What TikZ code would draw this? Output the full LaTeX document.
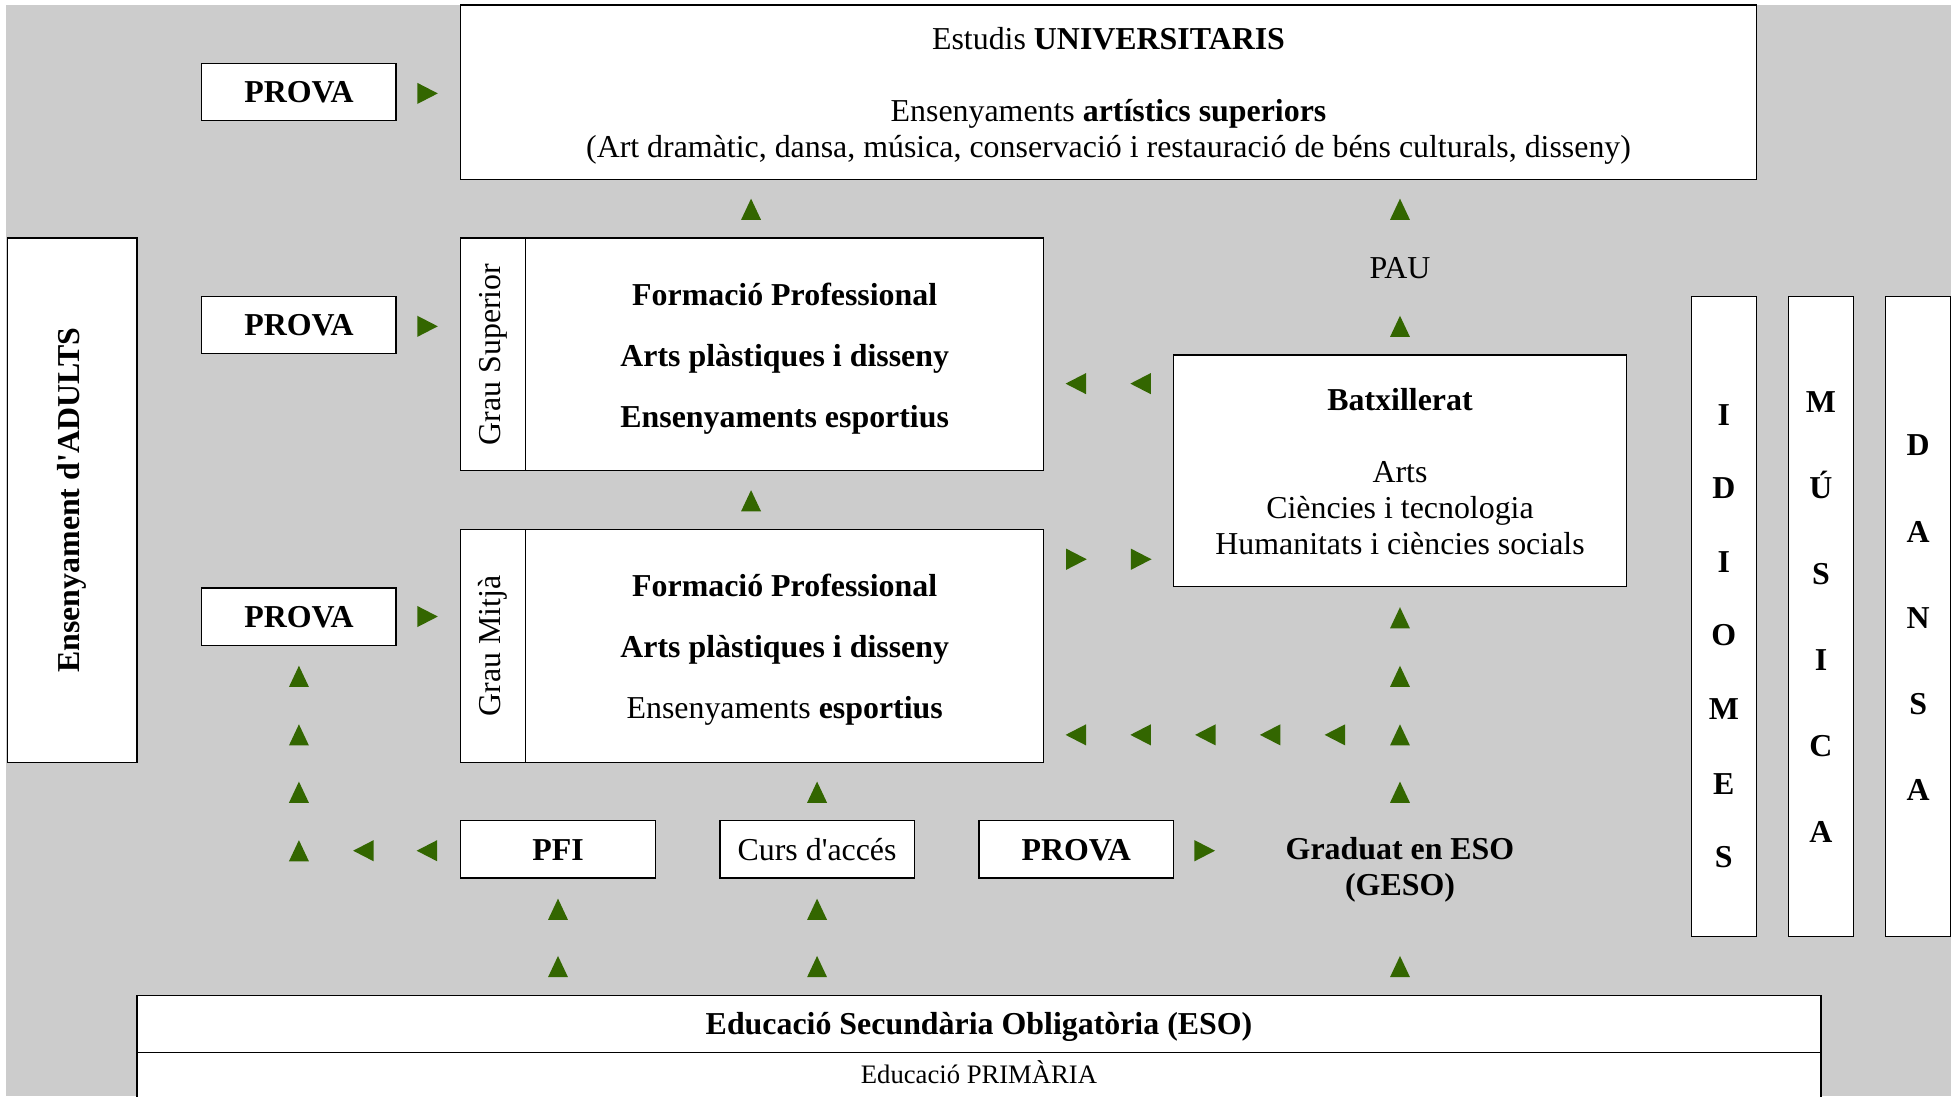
\documentclass[tikz,border=0pt]{standalone}
\usepackage{fontspec}
\setmainfont{Liberation Serif}
\definecolor{bggray}{RGB}{204,204,204}
\definecolor{agreen}{RGB}{51,102,0}
\begin{document}
\begin{tikzpicture}[x=1pt,y=-1pt,
  every node/.style={font=\fontsize{25.6}{29}\selectfont, inner sep=0pt},
  box/.style={draw=black, line width=1pt, fill=white, align=center},
  one/.style={text height=17pt, text depth=0pt},
  bft/.style={font=\fontsize{25.6}{29}\selectfont\bfseries},
  letter/.style={font=\fontsize{25.6}{29}\selectfont\bfseries, anchor=base},
  upar/.pic={\fill[agreen] (-8,8.5)--(8,8.5)--(0,-8.5)--cycle;},
  rtar/.pic={\fill[agreen] (-8,-8.5)--(-8,8.5)--(8.5,0)--cycle;},
  ltar/.pic={\fill[agreen] (8,-8.5)--(8,8.5)--(-8.5,0)--cycle;},
]
\useasboundingbox (0,0) rectangle (1568,880);
\clip (0,0) rectangle (1568,880);
\fill[bggray] (5,4) rectangle (1566,880);

% top: university
\node[box, minimum width=1040pt, minimum height=140pt] (univ) at (890,74) {};
\node[align=center] (univt) at (890,77)
  {Estudis \textbf{UNIVERSITARIS}\\[29pt] Ensenyaments \textbf{artístics superiors}\\
   (Art dramàtic, dansa, música, conservació i restauració de béns culturals, disseny)};

% adults
\node[box, bft, rotate=90, minimum width=421pt, minimum height=104pt] (adults) at (58,401.5) {Ensenyament d\textquotesingle ADULTS};

% PROVA boxes
\node[box, one, bft, minimum width=156pt, minimum height=46pt] (prova1) at (240,74) {PROVA};
\node[box, one, bft, minimum width=156pt, minimum height=46pt] (prova2) at (240,261) {PROVA};
\node[box, one, bft, minimum width=156pt, minimum height=46pt] (prova3) at (240,495) {PROVA};
\node[box, one, bft, minimum width=156pt, minimum height=46pt] (prova4) at (864,682) {PROVA};
\node[box, one, bft, minimum width=156pt, minimum height=46pt] (pfi) at (448,682) {PFI};
\node[box, one, minimum width=156pt, minimum height=46pt] (curs) at (656,682) {Curs d\textquotesingle accés};

% Grau Superior
\node[box, rotate=90, minimum width=187pt, minimum height=52pt] (gsl) at (396,284.5) {Grau Superior};
\node[box, minimum width=416pt, minimum height=187pt] (gsr) at (630,284.5) {};
\node[bft, align=center] (gsrt) at (630,288)
  {Formació Professional\\[20pt] Arts plàstiques i disseny\\[20pt] Ensenyaments esportius};

% Grau Mitja
\node[box, rotate=90, minimum width=187pt, minimum height=52pt] (gml) at (396,518.5) {Grau Mitjà};
\node[box, minimum width=416pt, minimum height=187pt] (gmr) at (630,518.5) {};
\node[align=center] (gmrt) at (630,521.5)
  {\textbf{Formació Professional}\\[20pt] \textbf{Arts plàstiques i disseny}\\[20pt] Ensenyaments \textbf{esportius}};

% Batxillerat
\node[box, minimum width=364pt, minimum height=186pt] (batx) at (1124,378) {};
\node[align=center] (batxt) at (1124,378.5)
  {\textbf{Batxillerat}\\[29pt] Arts\\ Ciències i tecnologia\\ Humanitats i ciències socials};

\node[one] (pau) at (1124,215) {PAU};
\node[bft, align=center] (geso) at (1124,698) {Graduat en ESO\\(GESO)};

% ESO and primaria
\node[box, one, bft, minimum width=1352pt, minimum height=46pt] (eso) at (786,822) {Educació Secundària Obligatòria (ESO)};
\node[box, font=\fontsize{21.4}{25}\selectfont, text height=14.2pt, text depth=0pt, minimum width=1352pt, minimum height=36pt] (prim) at (786,863) {Educació PRIMÀRIA};

% right columns
\node[box, minimum width=52pt, minimum height=514pt] (idi) at (1384,495) {};
\node[box, minimum width=52pt, minimum height=514pt] (mus) at (1462,495) {};
\node[box, minimum width=52pt, minimum height=514pt] (dan) at (1540,495) {};
\foreach \l/\y [count=\i] in {I/333, D/392, I/451, O/510, M/569, E/629, S/688}
  \node[letter] (idil\i) at (1384,\y+8.5) {\l};
\foreach \l/\y [count=\i] in {M/323, Ú/392, S/461, I/530, C/599, A/668}
  \node[letter] (musl\i) at (1462,\y+8.5) {\l};
\foreach \l/\y [count=\i] in {D/357, A/427, N/496, S/565, A/634}
  \node[letter] (danl\i) at (1540,\y+8.5) {\l};

% arrows up
\foreach \x/\y [count=\i] in {603/168, 1124/168, 1124/262, 603/402, 1124/496, 1124/543, 1124/590, 1124/636, 1124/776,
  240/543, 240/590, 240/636, 240/683, 656/636, 448/730, 448/776, 656/730, 656/776}
  \pic (up\i) at (\x,\y) {upar};
% arrows right
\foreach \x/\y [count=\i] in {343/75, 343/262, 343/495, 864/449, 916/449, 967/683}
  \pic (rt\i) at (\x,\y) {rtar};
% arrows left
\foreach \x/\y [count=\i] in {864/308, 916/308, 864/590, 916/590, 968/590, 1020/590, 1072/590, 292/683, 343/683}
  \pic (lt\i) at (\x,\y) {ltar};
\end{tikzpicture}
\end{document}
